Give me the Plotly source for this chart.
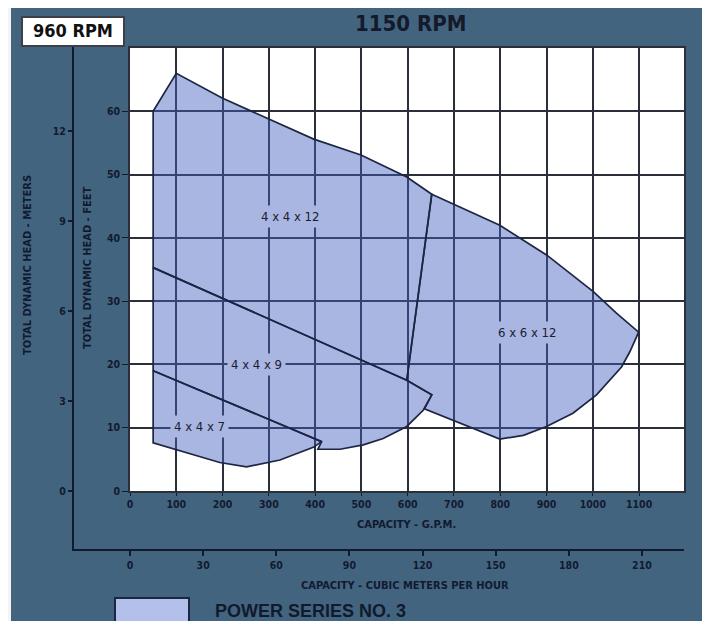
import plotly.graph_objects as go

# ---------------- data ----------------
gpm_ticks = [0, 100, 200, 300, 400, 500, 600, 700, 800, 900, 1000, 1100]
feet_ticks = [0, 10, 20, 30, 40, 50, 60]
meter_ticks = [0, 3, 6, 9, 12]
m3h_ticks = [0, 30, 60, 90, 120, 150, 180, 210]

# pump coverage regions (capacity GPM, head feet) at 1150 RPM
r6_gpm = [652, 698, 799, 900, 1001, 1051, 1099, 1080, 1062, 1008, 957, 900, 850, 799, 636, 652, 598]
r6_ft = [46.9, 45.4, 42.0, 37.3, 31.5, 28.1, 25.1, 22.0, 19.6, 15.2, 12.3, 10.2, 8.8, 8.2, 13.0, 15.2, 17.5]

r12_gpm = [50, 100, 199, 298, 397, 499, 598, 652, 598, 50]
r12_ft = [60.0, 66.0, 62.1, 58.9, 55.6, 53.1, 49.6, 46.9, 17.5, 35.3]

r9_gpm = [50, 598, 652, 634, 598, 547, 504, 454, 406, 414, 50]
r9_ft = [35.3, 17.5, 15.2, 12.8, 10.2, 8.3, 7.3, 6.6, 6.6, 7.8, 19.0]

r7_gpm = [50, 414, 396, 324, 252, 194, 50]
r7_ft = [19.0, 7.8, 6.9, 4.9, 3.8, 4.5, 7.6]

region_names = ["4 x 4 x 12", "4 x 4 x 9", "4 x 4 x 7", "6 x 6 x 12"]
label_gpm = [346, 274, 151, 857]
label_ft = [43.3, 20.0, 10.2, 25.1]

# ---------------- styling ----------------
BG = "#42647f"
DARK = "#121a30"
GRID = "#2b2f3a"
OUTLINE = "#1c2542"
FILL = "rgba(67,93,191,0.45)"
FILL_SOLID = "#aab6e2"
NARROW = "DejaVu Sans Condensed, Liberation Sans Narrow, sans-serif"

# page body has an 8px margin; figure is sized to the remaining viewport
OFF = 8
W, H = 710 - OFF, 621 - OFF
ML, MR, MT, MB = 2, 26, 40, 10
PW, PH = W - ML - MR, H - MT - MB


def px(xp):  # reference-image x pixel -> paper fraction
    return (xp - OFF - ML) / PW


def py(yp):  # reference-image y pixel -> paper fraction
    return (H + OFF - MB - yp) / PH


fig = go.Figure()

for gx, gy in [(r6_gpm, r6_ft), (r12_gpm, r12_ft), (r9_gpm, r9_ft), (r7_gpm, r7_ft)]:
    fig.add_trace(go.Scatter(
        x=gx + [gx[0]], y=gy + [gy[0]], mode="lines", fill="toself",
        fillcolor=FILL, line=dict(color=OUTLINE, width=1.7),
        hoverinfo="skip", showlegend=False))

# carriers so the metric axes are drawn
fig.add_trace(go.Scatter(x=[m3h_ticks[0]], y=[feet_ticks[0]], xaxis="x2", yaxis="y",
                         mode="markers", marker=dict(opacity=0), hoverinfo="skip", showlegend=False))
fig.add_trace(go.Scatter(x=[gpm_ticks[0]], y=[meter_ticks[0]], xaxis="x", yaxis="y2",
                         mode="markers", marker=dict(opacity=0), hoverinfo="skip", showlegend=False))

for name, gx, gy in zip(region_names, label_gpm, label_ft):
    fig.add_annotation(x=gx, y=gy, xref="x", yref="y", text=name, showarrow=False,
                       font=dict(family=NARROW, size=13, color="#1a2032"),
                       bgcolor=FILL_SOLID, borderpad=3)

x_left = px(130)
y_bot = py(491)
TICKFONT = dict(family=NARROW, size=10.5, color=DARK, weight="bold")

fig.update_layout(
    width=W, height=H,
    margin=dict(l=ML, r=MR, t=MT, b=MB),
    paper_bgcolor=BG, plot_bgcolor="white",
    font=dict(family=NARROW, color=DARK, size=12),
    xaxis=dict(domain=[x_left, 1], range=[0, 1197], tickvals=gpm_ticks,
               showgrid=True, gridcolor=GRID, gridwidth=1.6, zeroline=False,
               showline=True, mirror=True, linecolor=GRID, linewidth=1.5,
               ticks="outside", ticklen=3, tickcolor=DARK, automargin=False,
               tickfont=TICKFONT),
    yaxis=dict(domain=[y_bot, 1], range=[0, 70], tickvals=feet_ticks,
               showgrid=True, gridcolor=GRID, gridwidth=1.6, zeroline=False,
               showline=True, mirror=True, linecolor=GRID, linewidth=1.5,
               ticks="outside", ticklen=6, tickcolor=DARK, automargin=False,
               tickfont=TICKFONT),
    xaxis2=dict(overlaying="x", anchor="free", position=py(550), side="bottom",
                range=[0, 554 / 2.438], tickvals=m3h_ticks, showgrid=False,
                zeroline=False, showline=False, ticks="outside", ticklen=5,
                tickwidth=1.5, tickcolor=DARK, automargin=False, tickfont=TICKFONT),
    yaxis2=dict(overlaying="y", anchor="free", position=px(73), side="left",
                range=[0, 443 / 30.0], tickvals=meter_ticks, showgrid=False,
                zeroline=False, showline=False, ticks="outside", ticklen=5,
                tickwidth=1.5, tickcolor=DARK, automargin=False, tickfont=TICKFONT),
)

shapes = [
    # scan edge on the left
    dict(type="rect", xref="paper", yref="paper", x0=px(-5), x1=px(11), y0=py(640), y1=py(-5),
         fillcolor="#f4f4f4", line=dict(width=0), layer="below"),
    # metric axis lines
    dict(type="line", xref="paper", yref="paper", x0=px(73), x1=px(73), y0=py(46), y1=py(550),
         line=dict(color=DARK, width=2)),
    dict(type="line", xref="paper", yref="paper", x0=px(72), x1=px(684), y0=py(550), y1=py(550),
         line=dict(color=DARK, width=2)),
    # 960 RPM box
    dict(type="rect", xref="paper", yref="paper", x0=px(22), x1=px(124), y0=py(46), y1=py(17),
         fillcolor="white", line=dict(color="#3a3f4a", width=2)),
    # legend swatch
    dict(type="rect", xref="paper", yref="paper", x0=px(115), x1=px(189), y0=py(624), y1=py(598),
         fillcolor="#b3c0ec", line=dict(color=OUTLINE, width=2)),
]
fig.update_layout(shapes=shapes)

TITLEFONT = dict(family=NARROW, size=11, color=DARK, weight="bold")
ann = [
    dict(x=px(73), y=py(31), text="<b>960 RPM</b>", font=dict(family=NARROW, size=18, color="#111")),
    dict(x=px(411), y=py(23), text="<b>1150 RPM</b>", font=dict(family=NARROW, size=22, color="#141a2a")),
    dict(x=px(87), y=py(268), text="TOTAL DYNAMIC HEAD - FEET", textangle=-90, font=TITLEFONT),
    dict(x=px(27), y=py(265), text="TOTAL DYNAMIC HEAD - METERS", textangle=-90, font=TITLEFONT),
    dict(x=px(406), y=py(524), text="CAPACITY - G.P.M.", font=TITLEFONT),
    dict(x=px(405), y=py(585), text="CAPACITY - CUBIC METERS PER HOUR", font=TITLEFONT),
    dict(x=px(213), y=py(611), text="<b>POWER SERIES NO. 3</b>", xanchor="left",
         font=dict(family="Liberation Sans, Arial, sans-serif", size=18, color="#111a2c")),
]
for a in ann:
    a.setdefault("xanchor", "center")
    fig.add_annotation(xref="paper", yref="paper", showarrow=False, yanchor="middle", **a)

fig.write_html("out.html")
